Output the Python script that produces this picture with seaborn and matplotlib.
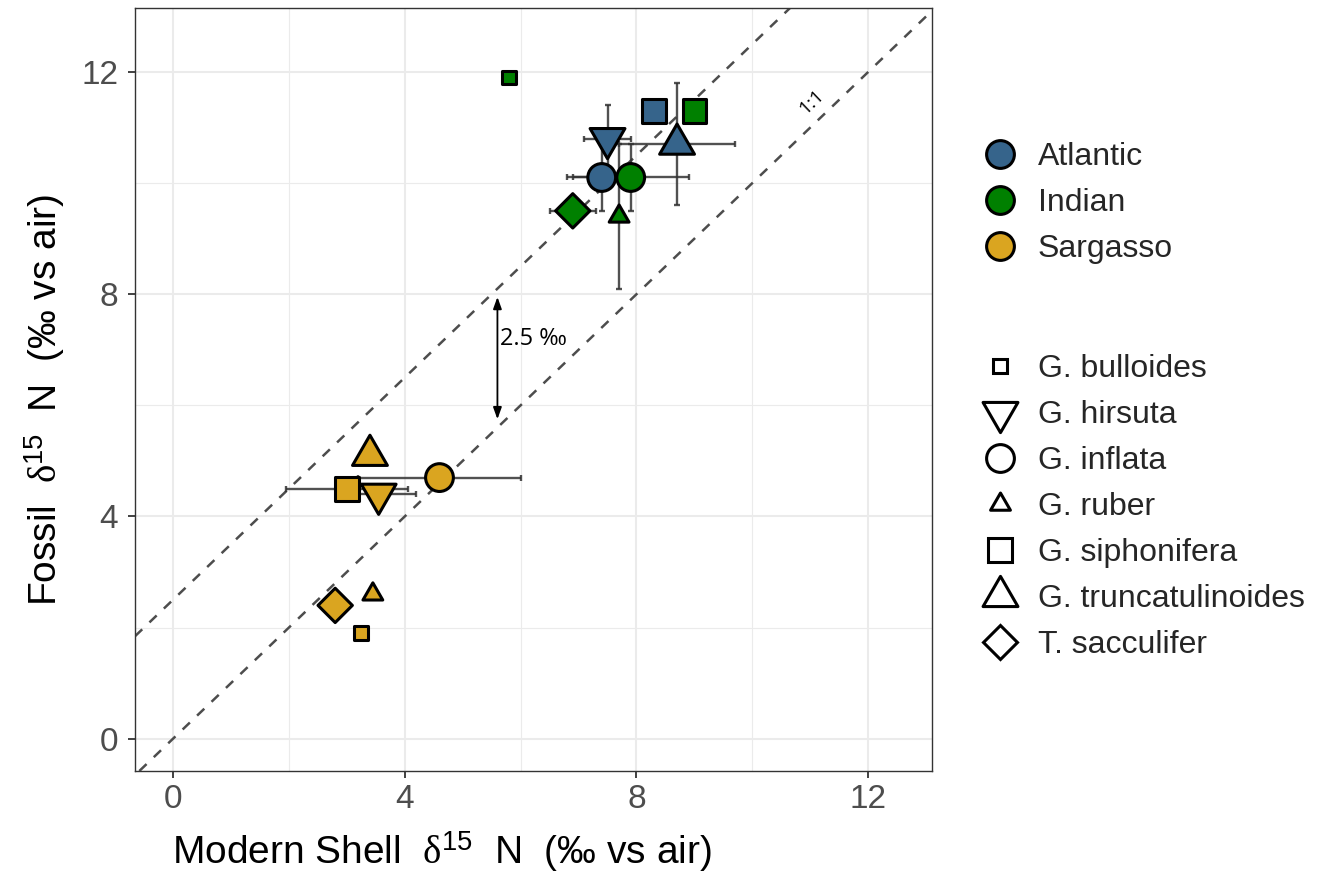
import numpy as np
import pandas as pd
import matplotlib
matplotlib.use("Agg")
import matplotlib.pyplot as plt
from matplotlib.lines import Line2D
from matplotlib.path import Path
import seaborn as sns

# ---- data -------------------------------------------------------------
region = ["Atlantic"] * 4 + ["Indian"] * 5 + ["Sargasso"] * 7
species = [
    "G. hirsuta", "G. inflata", "G. siphonifera", "G. truncatulinoides",
    "G. bulloides", "G. inflata", "G. siphonifera", "G. ruber", "T. sacculifer",
    "G. bulloides", "G. hirsuta", "G. inflata", "G. ruber", "G. siphonifera",
    "G. truncatulinoides", "T. sacculifer",
]
modern = [7.5, 7.4, 8.3, 8.7,
          5.8, 7.9, 9.0, 7.7, 6.9,
          3.25, 3.55, 4.6, 3.45, 3.0, 3.4, 2.8]
fossil = [10.8, 10.1, 11.3, 10.7,
          11.9, 10.1, 11.3, 9.4, 9.5,
          1.9, 4.4, 4.7, 2.6, 4.5, 5.1, 2.4]
modern_err = [0.4, 0.6, 0.0, 1.0,
              0.0, 1.0, 0.0, 0.0, 0.4,
              0.0, 0.65, 1.4, 0.0, 1.05, 0.0, 0.0]
fossil_err = [0.6, 0.6, 0.0, 1.1,
              0.0, 0.6, 0.0, 1.3, 0.0,
              0.0, 0.0, 0.0, 0.0, 0.0, 0.0, 0.0]

regions = ["Atlantic", "Indian", "Sargasso"]
region_colors = ["#36648B", "#008000", "#DAA520"]
species_order = ["G. bulloides", "G. hirsuta", "G. inflata", "G. ruber",
                 "G. siphonifera", "G. truncatulinoides", "T. sacculifer"]

offset = 2.5  # offset of the upper reference line (permil)

df = pd.DataFrame({"region": region, "species": species,
                   "modern": modern, "fossil": fossil,
                   "modern_err": modern_err, "fossil_err": fossil_err})

# ---- marker styles --------------------------------------------------------
tri_up = Path([(0, 1), (-0.866, -0.5), (0.866, -0.5), (0, 1)],
              [Path.MOVETO, Path.LINETO, Path.LINETO, Path.CLOSEPOLY])
tri_down = Path([(0, -1), (-0.866, 0.5), (0.866, 0.5), (0, -1)],
                [Path.MOVETO, Path.LINETO, Path.LINETO, Path.CLOSEPOLY])

markers = {"G. bulloides": "s", "G. hirsuta": tri_down, "G. inflata": "o",
           "G. ruber": tri_up, "G. siphonifera": "s",
           "G. truncatulinoides": tri_up, "T. sacculifer": "D"}
msizes = {"G. bulloides": 10.0, "G. hirsuta": 29.0, "G. inflata": 20.0,
          "G. ruber": 16.5, "G. siphonifera": 17.0,
          "G. truncatulinoides": 29.0, "T. sacculifer": 17.5}

# ---- fonts ------------------------------------------------------------------
sns.set_theme(style="white")
plt.rcParams["font.family"] = ["Liberation Sans", "DejaVu Sans"]
plt.rcParams["mathtext.fontset"] = "custom"
plt.rcParams["mathtext.rm"] = "Liberation Serif"
plt.rcParams["mathtext.it"] = "Liberation Serif:italic"
plt.rcParams["mathtext.sf"] = "Liberation Sans"

fig = plt.figure(figsize=(13.22, 8.74), dpi=100)
ax = fig.add_axes([135 / 1322, 1 - 771 / 874, 797 / 1322, 763 / 874])

# ---- reference lines ----------------------------------------------------------
line_kw = dict(color="#4D4D4D", lw=1.8, ls=(0, (4, 4)), zorder=1.5)
ax.axline((0, 0), slope=1, **line_kw)
ax.axline((0, offset), slope=1, **line_kw)

# ---- error bars -------------------------------------------------------------
err_kw = dict(fmt="none", ecolor=(0.2, 0.2, 0.2, 0.85), elinewidth=1.7,
              capsize=2.5, capthick=1.7, zorder=2)
xe = df[df["modern_err"] > 0]
ax.errorbar(xe["modern"], xe["fossil"], xerr=xe["modern_err"], **err_kw)
ye = df[df["fossil_err"] > 0]
ax.errorbar(ye["modern"], ye["fossil"], yerr=ye["fossil_err"], **err_kw)

# ---- points -----------------------------------------------------------------
sns.scatterplot(data=df, x="modern", y="fossil",
                hue="region", hue_order=regions,
                palette=dict(zip(regions, region_colors)),
                style="species", style_order=species_order, markers=markers,
                size="species", size_order=species_order,
                sizes={k: v ** 2 for k, v in msizes.items()},
                edgecolor="black", linewidth=2.2, alpha=1,
                legend=False, ax=ax, zorder=3)

# ---- annotations --------------------------------------------------------------
ax.annotate("", xy=(5.6, 7.95), xytext=(5.6, 5.75),
            arrowprops=dict(arrowstyle="<|-|>,head_length=0.5,head_width=0.18",
                            color="black", lw=1.3, mutation_scale=14,
                            shrinkA=0, shrinkB=0), zorder=4)
ax.text(5.64, 7.2, "2.5 \u2030", fontsize=17, color="black",
        family=["Open Sans", "DejaVu Sans"],
        ha="left", va="center", zorder=4)
ax.text(11.02, 11.46, "1:1", fontsize=14, color="black",
        family=["Open Sans", "DejaVu Sans"],
        rotation=43.7, rotation_mode="anchor", ha="center", va="center", zorder=4)

# ---- axes styling ---------------------------------------------------------------
ax.set_xlim(-0.655, 13.1)
ax.set_ylim(-0.58, 13.15)
ax.set_xticks([0, 4, 8, 12])
ax.set_yticks([0, 4, 8, 12])
ax.set_xticks([2, 6, 10], minor=True)
ax.set_yticks([2, 6, 10], minor=True)
ax.grid(True, which="major", color="#EBEBEB", lw=1.5)
ax.grid(True, which="minor", color="#EBEBEB", lw=0.8)
ax.set_axisbelow(True)
ax.tick_params(which="major", length=5, width=1.3, color="#333333",
               labelsize=24, labelcolor="#4D4D4D", direction="out",
               bottom=True, left=True)
ax.tick_params(axis="x", which="major", pad=4.5)
ax.tick_params(axis="y", which="major", pad=7)
ax.tick_params(which="minor", length=0)
for s in ax.spines.values():
    s.set_color("#333333")
    s.set_linewidth(1.0)

ax.set_xlabel(r"Modern Shell  $\mathrm{\delta}^{\mathsf{15}}$  N  (‰ vs air)",
              fontsize=28, color="black", ha="left")
ax.set_ylabel(r"Fossil  $\mathrm{\delta}^{\mathsf{15}}$  N  (‰ vs air)",
              fontsize=28, color="black", ha="left")
ax.xaxis.set_label_coords((172 - 135) / 797, -0.077)
ax.yaxis.set_label_coords(-0.0853, (771 - 606) / 763)

# ---- legends ------------------------------------------------------------------
leg_fs = 23
region_handles = [Line2D([], [], ls="none", marker="o", ms=msizes["G. inflata"],
                         mfc=c, mec="black", mew=2.2)
                  for c in region_colors]
species_handles = [Line2D([], [], ls="none", marker=markers[s], ms=msizes[s],
                          mfc="white", mec="black", mew=2.2)
                   for s in species_order]

common = dict(frameon=False, fontsize=leg_fs, loc="upper left",
              borderpad=0, borderaxespad=0, handlelength=1.45,
              handletextpad=0.45, labelspacing=0.5,
              bbox_transform=fig.transFigure)
fig.legend(region_handles, regions,
           bbox_to_anchor=(977 / 1322, 1 - 142 / 874), **common)
fig.legend(species_handles, species_order,
           bbox_to_anchor=(977 / 1322, 1 - 354 / 874), **common)

fig.savefig("out.png", dpi=100)
